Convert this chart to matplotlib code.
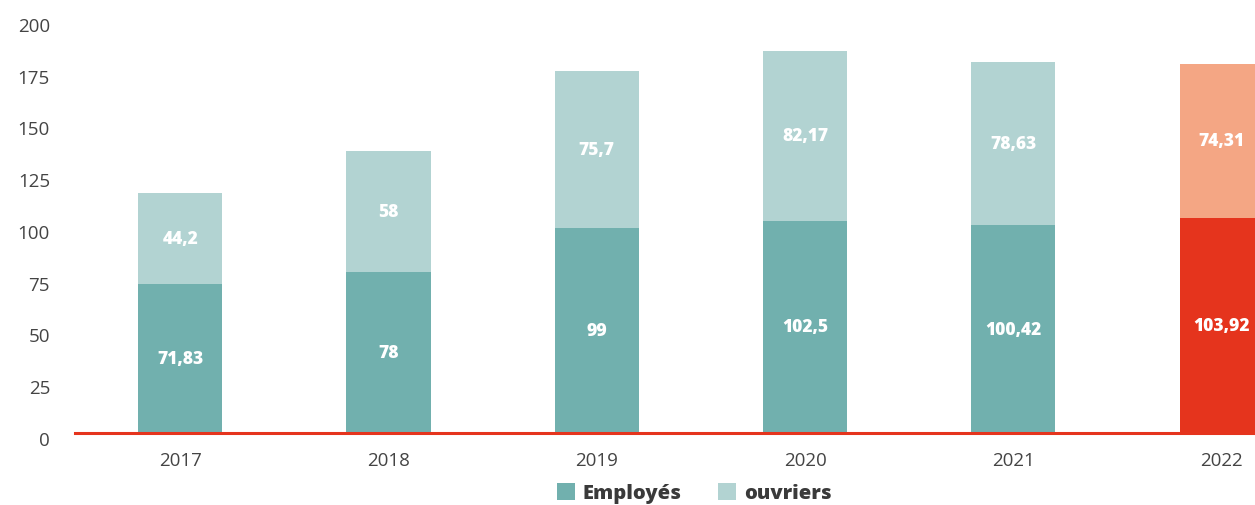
import matplotlib
matplotlib.use("Agg")
import matplotlib.pyplot as plt
from matplotlib.patches import Patch
import matplotlib.transforms as mtransforms

plt.rcParams['font.family'] = ['Open Sans', 'DejaVu Sans']

years = ["2017", "2018", "2019", "2020", "2021", "2022"]
employes = [71.83, 78, 99, 102.5, 100.42, 103.92]
ouvriers = [44.2, 58, 75.7, 82.17, 78.63, 74.31]
employes_labels = ["71,83", "78", "99", "102,5", "100,42", "103,92"]
ouvriers_labels = ["44,2", "58", "75,7", "82,17", "78,63", "74,31"]

teal_dark = "#71b0ae"
teal_light = "#b2d3d2"
red_dark = "#e5341d"
red_light = "#f4a684"
text_grey = "#444444"

fig = plt.figure(figsize=(12.55, 5.06), dpi=100)
ax = fig.add_axes([75 / 1255, 72 / 506, 1 - 75 / 1255, (434 - 20) / 506])

x = list(range(len(years)))
emp_colors = [teal_dark] * (len(years) - 1) + [red_dark]
ouv_colors = [teal_light] * (len(years) - 1) + [red_light]

width = 84 / 208
ax.bar(x, employes, width=width, color=emp_colors, zorder=2)
ax.bar(x, ouvriers, width=width, bottom=employes, color=ouv_colors, zorder=2)

for i in x:
    ax.text(i, employes[i] / 2, employes_labels[i], ha="center", va="center",
            color="white", fontsize=12.5, fontweight="heavy", zorder=3)
    ax.text(i, employes[i] + ouvriers[i] / 2, ouvriers_labels[i], ha="center",
            va="center", color="white", fontsize=12.5, fontweight="heavy", zorder=3)

ax.set_xlim(-0.505, 5.16)
ax.set_ylim(0, 200)
ax.set_yticks(range(0, 201, 25))
ax.set_xticks(x)
ax.set_xticklabels(years)

ax.axhline(0, color=red_dark, lw=2.2, zorder=4, clip_on=False)

for s in ax.spines.values():
    s.set_visible(False)
ax.tick_params(axis="both", length=0, colors=text_grey, labelsize=13.5)
ax.tick_params(axis="y", pad=18)
ax.tick_params(axis="x", pad=13)

offset = mtransforms.ScaledTranslation(0, -5 / 100, fig.dpi_scale_trans)
for lab in ax.get_yticklabels():
    lab.set_transform(lab.get_transform() + offset)

handles = [Patch(facecolor=teal_dark, edgecolor="none", label="Employés"),
           Patch(facecolor=teal_light, edgecolor="none", label="ouvriers")]
leg = fig.legend(handles=handles, loc="center", bbox_to_anchor=(694 / 1255, 12 / 506),
                 ncol=2, frameon=False, handlelength=0.9, handleheight=0.9,
                 handletextpad=0.4, columnspacing=1.8,
                 prop={"weight": "heavy", "size": 14.5})
for t in leg.get_texts():
    t.set_color("#3a3a3a")

fig.savefig("out.png", dpi=100)
